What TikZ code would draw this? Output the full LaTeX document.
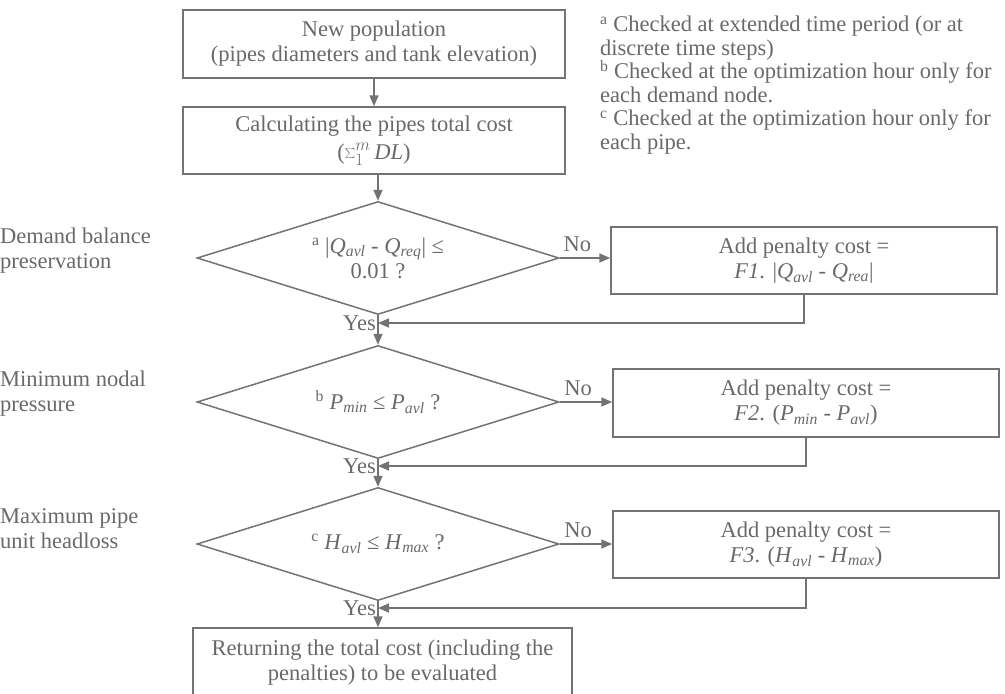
\documentclass[tikz,border=0pt]{standalone}
\usepackage{fontspec}
\setmainfont{Liberation Serif}
\usetikzlibrary{shapes.geometric,arrows.meta}
\definecolor{ink}{RGB}{115,115,115}
\definecolor{txt}{RGB}{105,105,105}
\begin{document}
\begin{tikzpicture}[x=1pt,y=-1pt,
  every node/.style={text=txt,font=\fontsize{22.5}{25}\selectfont},
  box/.style={draw=ink,line width=1.5pt,rectangle,inner sep=0pt,align=center},
  dia/.style={draw=ink,line width=1.5pt,diamond,aspect=3.2,inner sep=0pt,minimum width=362pt,minimum height=113pt,align=center},
  arr/.style={draw=ink,line width=1.6pt,-{Triangle[length=11pt,width=9pt]}},
  lbl/.style={align=left,anchor=west,inner sep=0pt},
  foot/.style={align=left,anchor=north west,inner sep=0pt,font=\fontsize{22.5}{23.5}\selectfont}]
\useasboundingbox (0,0) rectangle (1005,694);
% main column
\node[box,minimum width=382pt,minimum height=68pt] (a) at (374,44) {New population\\(pipes diameters and tank elevation)};
\node[box,minimum width=382pt,minimum height=67pt] (b) at (374,140.5) {Calculating the pipes total cost\\[3pt]({\fontsize{24}{24}\selectfont$\sum_{1}^{m}$}\,\textit{DL})};
\node[dia] (d1) at (378,258) {\textsuperscript{a} |\textit{Q}\textsubscript{\textit{avl}} - \textit{Q}\textsubscript{\textit{req}}| ≤\\0.01 ?};
\node[dia] (d2) at (378,402) {\textsuperscript{b} \textit{P}\textsubscript{\textit{min}} ≤ \textit{P}\textsubscript{\textit{avl}} ?};
\node[dia] (d3) at (378,544) {\textsuperscript{c} \textit{H}\textsubscript{\textit{avl}} ≤ \textit{H}\textsubscript{\textit{max}} ?};
\node[box,minimum width=379pt,minimum height=70pt] (e) at (382.5,663) {Returning the total cost (including the\\penalties) to be evaluated};
% penalty boxes
\node[box,minimum width=386pt,minimum height=67pt] (p1) at (804,260.5) {Add penalty cost =\\\textit{F1}. |\textit{Q}\textsubscript{\textit{avl}} - \textit{Q}\textsubscript{\textit{rea}}|};
\node[box,minimum width=386pt,minimum height=68pt] (p2) at (806,403) {Add penalty cost =\\\textit{F2}. (\textit{P}\textsubscript{\textit{min}} - \textit{P}\textsubscript{\textit{avl}})};
\node[box,minimum width=386pt,minimum height=67pt] (p3) at (806,544.5) {Add penalty cost =\\\textit{F3}. (\textit{H}\textsubscript{\textit{avl}} - \textit{H}\textsubscript{\textit{max}})};
% junctions
\coordinate (j1) at (378,323);
\coordinate (j2) at (378,466);
\coordinate (j3) at (378,608);
% connectors
\draw[arr] (a.south) -- (b.north);
\draw[arr] (b.south -| d1.north) -- (d1.north);
\draw[arr] (d1.south) -- (d2.north);
\draw[arr] (d2.south) -- (d3.north);
\draw[arr] (d3.south) -- (e.north -| d3.south);
\draw[arr] (d1.east) -- (p1.west |- d1.east) node[pos=0.35,above=2pt] {No};
\draw[arr] (d2.east) -- (p2.west |- d2.east) node[pos=0.35,above=2pt] {No};
\draw[arr] (d3.east) -- (p3.west |- d3.east) node[pos=0.35,above=2pt] {No};
\draw[arr] (p1.south) |- (j1);
\draw[arr] (p2.south) |- (j2);
\draw[arr] (p3.south) |- (j3);
\node[anchor=east,inner sep=2pt] (y1) at (j1) {Yes};
\node[anchor=east,inner sep=2pt] (y2) at (j2) {Yes};
\node[anchor=east,inner sep=2pt] (y3) at (j3) {Yes};
% side labels
\node[lbl] (l1) at (0,251) {Demand balance\\preservation};
\node[lbl] (l2) at (0,394) {Minimum nodal\\pressure};
\node[lbl] (l3) at (0,529) {Maximum pipe\\unit headloss};
% footnotes
\node[foot] (fn) at (600,16) {\textsuperscript{a} Checked at extended time period (or at\\discrete time steps)\\\textsuperscript{b} Checked at the optimization hour only for\\each demand node.\\\textsuperscript{c} Checked at the optimization hour only for\\each pipe.};
\end{tikzpicture}
\end{document}
